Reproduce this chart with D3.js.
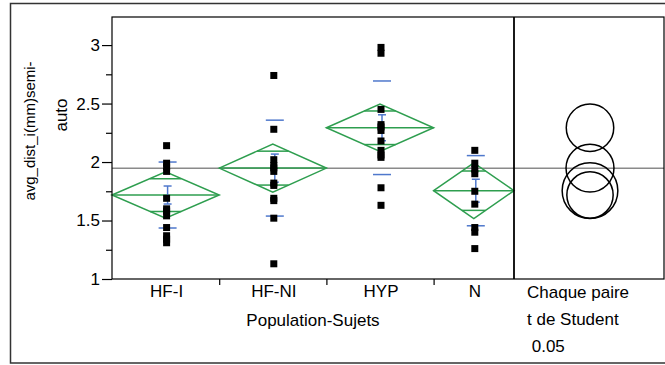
<!DOCTYPE html>
<html>
<head>
<meta charset="utf-8">
<script src="https://cdn.jsdelivr.net/npm/d3@7"></script>
<style>
  html, body { margin: 0; padding: 0; background: #fff; }
  svg { display: block; }
  text { font-family: "Liberation Sans", Arial, sans-serif; fill: #000; }
</style>
</head>
<body>
<svg id="chart" width="665" height="365"></svg>
<script>
// ---- data ----
const categories = ["HF-I", "HF-NI", "HYP", "N"];
const counts = [12, 12, 12, 9];
const pointsHFI  = [2.14, 1.99, 1.96, 1.92, 1.69, 1.60, 1.58, 1.54, 1.44, 1.37, 1.34, 1.31];
const pointsHFNI = [2.74, 2.28, 2.02, 1.97, 1.95, 1.92, 1.82, 1.80, 1.69, 1.67, 1.52, 1.13];
const pointsHYP  = [2.98, 2.93, 2.45, 2.32, 2.30, 2.27, 2.18, 2.10, 2.06, 2.04, 1.78, 1.63];
const pointsN    = [2.10, 1.99, 1.94, 1.90, 1.75, 1.64, 1.44, 1.40, 1.26];
const means = [1.718, 1.948, 2.293, 1.755];
const sds   = [0.282, 0.410, 0.400, 0.300];
const ses   = [0.077, 0.120, 0.111, 0.098];
const cis   = [0.198, 0.205, 0.203, 0.238];
const grandMean = 1.946;
const yMajorTicks = [1, 1.5, 2, 2.5, 3];
const yMinorTicks = [1.25, 1.75, 2.25, 2.75];
const yTitleLines = ["avg_dist_i(mm)semi-", "auto"];
const xTitle = "Population-Sujets";
const legendLines = ["Chaque paire", "t de Student", " 0.05"];

const pointsByGroup = [pointsHFI, pointsHFNI, pointsHYP, pointsN];

// ---- layout ----
const svg = d3.select("#chart");
const plot = { left: 112, right: 514, top: 17, bottom: 279 };
const panel = { left: 514, right: 664 };
const GREEN = "#2e9e4f", BLUE = "#4f78cc";

const cum = [0];
counts.forEach((c, i) => cum.push(cum[i] + c));
const x = d3.scaleLinear().domain([0, cum[cum.length - 1]]).range([plot.left, plot.right]);
const y = d3.scaleLinear().domain([1, 3.24]).range([plot.bottom, plot.top]);

// outer frame
svg.append("rect").attr("x", 10.5).attr("y", 3.5).attr("width", 670).attr("height", 359.5)
  .attr("fill", "none").attr("stroke", "#333").attr("stroke-width", 1.5);

// grand mean line (across plot and right panel)
svg.append("line")
  .attr("x1", plot.left).attr("x2", panel.right)
  .attr("y1", y(grandMean)).attr("y2", y(grandMean))
  .attr("stroke", "#8a8a8a").attr("stroke-width", 1.5);

// groups
const groups = categories.map((c, i) => ({
  name: c, x0: x(cum[i]), x1: x(cum[i + 1]), xc: (x(cum[i]) + x(cum[i + 1])) / 2,
  mean: means[i], sd: sds[i], se: ses[i], ci: cis[i], pts: pointsByGroup[i]
}));

const g = svg.append("g");
groups.forEach(d => {
  // diamond
  const dia = [[d.x0, y(d.mean)], [d.xc, y(d.mean + d.ci)], [d.x1, y(d.mean)], [d.xc, y(d.mean - d.ci)]];
  g.append("path").attr("d", d3.line()(dia) + "Z")
    .attr("fill", "none").attr("stroke", GREEN).attr("stroke-width", 1.5);
  g.append("line").attr("x1", d.x0).attr("x2", d.x1)
    .attr("y1", y(d.mean)).attr("y2", y(d.mean))
    .attr("stroke", GREEN).attr("stroke-width", 1.5);
  // overlap marks
  const ov = d.ci / Math.SQRT2;
  const half = (d.x1 - d.x0) / 2 * (1 - ov / d.ci);
  [d.mean + ov, d.mean - ov].forEach(v => {
    g.append("line").attr("x1", d.xc - half).attr("x2", d.xc + half)
      .attr("y1", y(v)).attr("y2", y(v))
      .attr("stroke", GREEN).attr("stroke-width", 1.5);
  });
  // std dev lines
  [d.mean + d.sd, d.mean - d.sd].forEach(v => {
    g.append("line").attr("x1", d.xc - 7).attr("x2", d.xc + 11)
      .attr("y1", y(v)).attr("y2", y(v))
      .attr("stroke", BLUE).attr("stroke-width", 1.5);
  });
  // mean error bar
  const ex = d.xc + 2;
  g.append("line").attr("x1", ex).attr("x2", ex)
    .attr("y1", y(d.mean + d.se)).attr("y2", y(d.mean - d.se))
    .attr("stroke", BLUE).attr("stroke-width", 1.5);
  [d.mean + d.se, d.mean - d.se].forEach(v => {
    g.append("line").attr("x1", ex - 4).attr("x2", ex + 4)
      .attr("y1", y(v)).attr("y2", y(v))
      .attr("stroke", BLUE).attr("stroke-width", 1.5);
  });
  // points
  g.selectAll(null).data(d.pts).enter().append("rect")
    .attr("x", d.xc - 2.5).attr("y", v => y(v) - 3.5)
    .attr("width", 7).attr("height", 7).attr("fill", "#000");
});

// comparison circles
const cx = (panel.left + panel.right) / 2 + 1;
const pxPerUnit = y(1) - y(2);
svg.append("g").selectAll("circle").data(groups).enter().append("circle")
  .attr("cx", cx).attr("cy", d => y(d.mean)).attr("r", d => d.ci * pxPerUnit)
  .attr("fill", "none").attr("stroke", "#000").attr("stroke-width", 1.5);

// frames
svg.append("rect").attr("x", plot.left).attr("y", plot.top)
  .attr("width", panel.right - plot.left).attr("height", plot.bottom - plot.top)
  .attr("fill", "none").attr("stroke", "#000").attr("stroke-width", 1.2);
svg.append("line").attr("x1", panel.left).attr("x2", panel.left)
  .attr("y1", plot.top).attr("y2", plot.bottom)
  .attr("stroke", "#000").attr("stroke-width", 1.8);

// y axis
const yAxis = svg.append("g").attr("transform", `translate(${plot.left},0)`)
  .call(d3.axisLeft(y).tickValues(yMajorTicks).tickSize(10).tickPadding(2).tickFormat(d3.format("")));
yAxis.select(".domain").remove();
yAxis.selectAll("text").style("font-size", "17px").attr("fill", "#000");
yAxis.selectAll("line").attr("stroke", "#000").attr("stroke-width", 1.2);
const yMinor = svg.append("g").attr("transform", `translate(${plot.left},0)`)
  .call(d3.axisLeft(y).tickValues(yMinorTicks).tickSize(6).tickFormat(""));
yMinor.select(".domain").remove();
yMinor.selectAll("line").attr("stroke", "#000").attr("stroke-width", 1.2);

// x axis: boundary ticks
const xAxis = svg.append("g").attr("transform", `translate(0,${plot.bottom})`)
  .call(d3.axisBottom(x).tickValues(cum.slice(1, -1)).tickSize(6).tickFormat(""));
xAxis.select(".domain").remove();
xAxis.selectAll("line").attr("stroke", "#000").attr("stroke-width", 1.2);

// x category labels
svg.append("g").selectAll("text").data(groups).enter().append("text")
  .attr("x", d => d.xc + 1).attr("y", 297)
  .attr("text-anchor", "middle").style("font-size", "17px")
  .text(d => d.name);

// x title
svg.append("text").attr("x", (plot.left + plot.right) / 2).attr("y", 326)
  .attr("text-anchor", "middle").style("font-size", "17px").text(xTitle);

// y title
svg.append("text").attr("transform", "rotate(-90)")
  .attr("x", -131).attr("y", 34.5).attr("text-anchor", "middle")
  .style("font-size", "15px").text(yTitleLines[0]);
svg.append("text").attr("transform", "rotate(-90)")
  .attr("x", -115).attr("y", 67).attr("text-anchor", "middle")
  .style("font-size", "17px").text(yTitleLines[1]);

// legend text under right panel
svg.append("g").selectAll("text").data(legendLines).enter().append("text")
  .attr("x", 527).attr("y", (d, i) => 298 + i * 27)
  .style("font-size", "17px")
  .attr("xml:space", "preserve")
  .text(d => d);
</script>
</body>
</html>
